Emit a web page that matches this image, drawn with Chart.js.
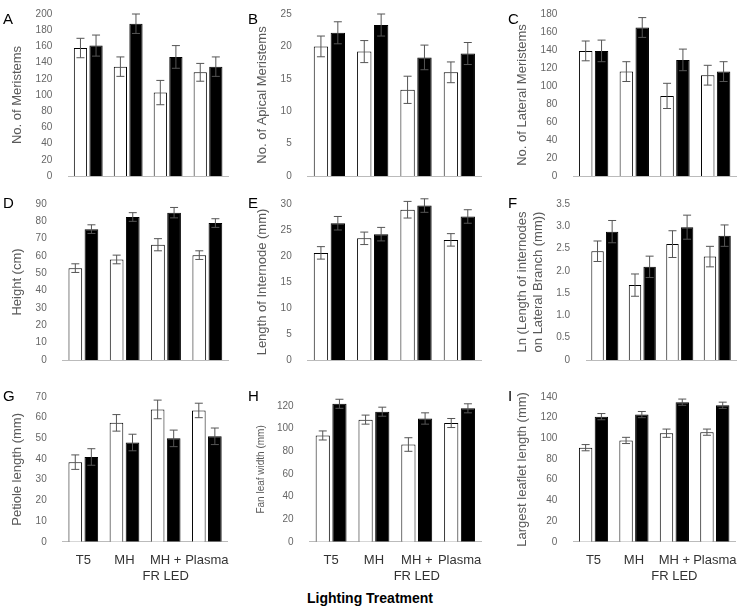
<!DOCTYPE html>
<html><head><meta charset="utf-8">
<script src="https://cdn.jsdelivr.net/npm/chart.js@4/dist/chart.umd.min.js"></script>
<style>
body{margin:0;background:#fff;width:740px;height:612px;position:relative;overflow:hidden;font-family:"Liberation Sans Narrow","Liberation Sans",sans-serif}
.p{position:absolute}
.l{position:absolute;font-size:15px;color:#000}
#t{position:absolute;left:0;width:740px;top:590px;text-align:center;font:bold 14px "Liberation Sans Narrow","Liberation Sans",sans-serif}
</style></head><body>
<div id="t">Lighting Treatment</div>
<script>
const categories=[["T5"],["MH"],["MH +","FR LED"],["Plasma"]];
const letters=["A","B","C","D","E","F","G","H","I"];
const titles=["No. of Meristems","No. of Apical Meristems","No. of Lateral Meristems","Height (cm)","Length of Internode (mm)",["Ln (Length of internodes","on Lateral Branch (mm))"],"Petiole length (mm)","Fan leaf width (mm)","Largest leaflet length (mm)"];
const whiteA=[158,135,103,128], whiteAErr=[12,12,15,11], blackA=[161,188,147,135], blackAErr=[13,12,14,12];
const whiteB=[20,19.2,13.3,16], whiteBErr=[1.6,1.7,2.1,1.6], blackB=[22.1,23.3,18.3,18.9], blackBErr=[1.7,1.7,1.9,1.7];
const whiteC=[139,116,89,112], whiteCErr=[11,11,14,11], blackC=[139,165,129,116], blackCErr=[12,11,12,11];
const whiteD=[53,58,66.5,60.5], whiteDErr=[2.5,2.5,3.5,2.5], blackD=[75.5,82.5,85,79], blackDErr=[2.5,2.5,3,2.5];
const whiteE=[20.6,23.4,28.9,23.1], whiteEErr=[1.2,1.2,1.6,1.2], blackE=[26.3,24.2,29.7,27.6], blackEErr=[1.3,1.3,1.3,1.3];
const whiteF=[2.44,1.68,2.6,2.32], whiteFErr=[.23,.25,.3,.23], blackF=[2.88,2.09,2.98,2.79], blackFErr=[.25,.24,.27,.24];
const whiteG=[38.5,57.5,64,63.5], whiteGErr=[3.5,4,4.5,3.5], blackG=[41,48,50,51], blackGErr=[4,4,4,4];
const whiteH=[94,108,86,105], whiteHErr=[4,4,6,4], blackH=[122,115,109,118], blackHErr=[4,4,5,4];
const whiteI=[91,98,105,106], whiteIErr=[3,3,4,3], blackI=[121,123,135,132], blackIErr=[3,3,3,3];
const yMax=[200,25,180,90,30,3.5,70,128,140], yStep=[20,5,20,10,5,0.5,10,20,20];
const panels=[[whiteA,whiteAErr,blackA,blackAErr],[whiteB,whiteBErr,blackB,blackBErr],[whiteC,whiteCErr,blackC,blackCErr],[whiteD,whiteDErr,blackD,blackDErr],[whiteE,whiteEErr,blackE,blackEErr],[whiteF,whiteFErr,blackF,blackFErr],[whiteG,whiteGErr,blackG,blackGErr],[whiteH,whiteHErr,blackH,blackHErr],[whiteI,whiteIErr,blackI,blackIErr]];
const cols=[[0,232],[245,240],[505,235]], rows=[[0,192],[190,186],[383,204]];
const errPlugin={id:'err',afterDatasetsDraw(c){const ctx=c.ctx,y=c.scales.y;ctx.save();ctx.strokeStyle='#555';ctx.lineWidth=1;
 c.data.datasets.forEach((d,di)=>{c.getDatasetMeta(di).data.forEach((b,i)=>{const v=d.data[i],e=d.err[i];const t=y.getPixelForValue(v+e),bo=y.getPixelForValue(v-e);
 ctx.beginPath();ctx.moveTo(b.x,t);ctx.lineTo(b.x,bo);ctx.moveTo(b.x-4,t);ctx.lineTo(b.x+4,t);ctx.moveTo(b.x-4,bo);ctx.lineTo(b.x+4,bo);ctx.stroke();});});ctx.restore();}};
const tf="'Liberation Sans Narrow','Liberation Sans',sans-serif";
panels.forEach((p,k)=>{const r=Math.floor(k/3),cc=k%3;
 const div=document.createElement('div');div.className='p';div.style.left=cols[cc][0]+'px';div.style.top=rows[r][0]+'px';div.style.width=cols[cc][1]+'px';div.style.height=rows[r][1]+'px';
 const cv=document.createElement('canvas');div.appendChild(cv);document.body.appendChild(div);
 const lt=document.createElement('div');lt.className='l';lt.textContent=letters[k];lt.style.left=(cols[cc][0]+3)+'px';lt.style.top=(rows[r][0]+(r==0?10:4))+'px';document.body.appendChild(lt);
 const bottom=r==2;
 new Chart(cv,{type:'bar',plugins:[errPlugin],data:{labels:categories,datasets:[
  {data:p[0],err:p[1],backgroundColor:'#fff',borderColor:'#000',borderWidth:1,categoryPercentage:0.78,barPercentage:0.85},
  {data:p[2],err:p[3],backgroundColor:'#000',borderColor:'#000',borderWidth:1,categoryPercentage:0.78,barPercentage:0.85}]},
 options:{responsive:true,maintainAspectRatio:false,animation:false,layout:{padding:{top:r==0?4:6,right:4,bottom:bottom?0:8,left:6}},
  plugins:{legend:{display:false},tooltip:{enabled:false}},
  scales:{x:{grid:{display:false},border:{color:'#bbb'},ticks:{display:bottom,color:'#333',font:{family:tf,size:13},maxRotation:0,autoSkip:false}},
   y:{min:0,max:yMax[k],grid:{display:false},border:{display:false},
    afterBuildTicks(s){const t=[];for(let v=0;v<=yMax[k]+1e-9;v=Math.round((v+yStep[k])*1000)/1000)t.push({value:v});s.ticks=t;},
    ticks:{autoSkip:false,color:'#666',font:{family:tf,size:10},padding:8},
    title:{display:true,text:titles[k],color:'#595959',font:{family:"'Liberation Sans',sans-serif",size:k==7?10:13},padding:{bottom:2}}}}}});
});
</script></body></html>
